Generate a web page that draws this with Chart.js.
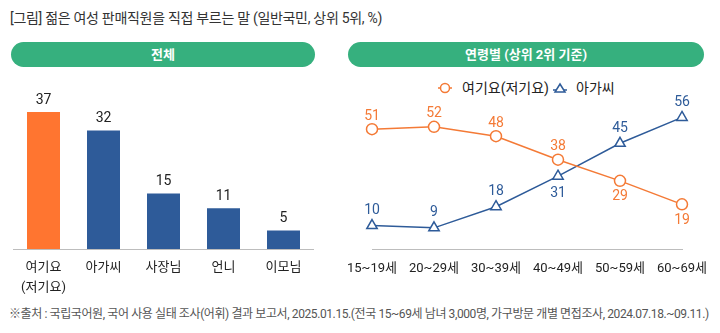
<!DOCTYPE html>
<html><head><meta charset="utf-8">
<script src="https://cdn.jsdelivr.net/npm/chart.js@4"></script>
<style>
html,body{margin:0;padding:0;background:#fff;}
body{width:720px;height:333px;position:relative;overflow:hidden;font-family:Roboto,"Noto Sans CJK KR",sans-serif;}
.title{position:absolute;left:10px;top:7px;font-size:14px;color:#333;letter-spacing:-0.3px;white-space:nowrap;}
.pill{position:absolute;height:25px;border-radius:13px;background:#36B07E;color:#fff;font-weight:bold;font-size:13px;line-height:25px;text-align:center;}
.foot{position:absolute;left:9px;top:304px;font-size:12px;color:#555;letter-spacing:-0.4px;white-space:nowrap;}
.lg{position:absolute;top:80px;height:16px;line-height:16px;font-size:14px;color:#222;white-space:nowrap;}
.lgi{position:absolute;top:82px;}
canvas{position:absolute;}
</style></head>
<body>
<div class="title">[그림] 젊은 여성 판매직원을 직접 부르는 말 (일반국민, 상위 5위, %)</div>
<div class="pill" style="left:11px;top:42px;width:304px;">전체</div>
<div class="pill" style="left:348px;top:42px;width:356px;">연령별 (상위 2위 기준)</div>
<svg class="lgi" style="left:438px" width="14" height="12"><line x1="0" y1="6" x2="14" y2="6" stroke="#F47A36" stroke-width="1.5"/><circle cx="7" cy="6" r="4.5" fill="#fff" stroke="#F47A36" stroke-width="1.5"/></svg>
<div class="lg" id="lg1" style="left:462px;"></div>
<svg class="lgi" style="left:553px" width="14" height="12"><line x1="0" y1="8" x2="14" y2="8" stroke="#2E5B99" stroke-width="1.5"/><polygon points="7,2 12,10 2,10" fill="#fff" stroke="#2E5B99" stroke-width="1.5"/></svg>
<div class="lg" id="lg2" style="left:576px;"></div>
<canvas id="bar" width="310" height="224" style="left:10px;top:75px;"></canvas>
<canvas id="line" width="362" height="224" style="left:348px;top:75px;"></canvas>
<div class="foot">※출처 : 국립국어원, 국어 사용 실태 조사(어휘) 결과 보고서, 2025.01.15.(전국 15~69세 남녀 3,000명, 가구방문 개별 면접조사, 2024.07.18.~09.11.)</div>
<script>
// ---- data ----
const barCategories = [["여기요","(저기요)"], "아가씨", "사장님", "언니", "이모님"];
const barValues = [37, 32, 15, 11, 5];
const ageCategories = ["15~19세", "20~29세", "30~39세", "40~49세", "50~59세", "60~69세"];
const seriesNames = ["여기요(저기요)", "아가씨"];
const yeogiyoValues = [51, 52, 48, 38, 29, 19];
const agassiValues = [10, 9, 18, 31, 45, 56];
// label placement (style)
const yeogiyoLabelPos = ["up","up","up","up","down","down"];
const agassiLabelPos = ["up","up","up","down","up","up"];

document.getElementById("lg1").textContent = seriesNames[0];
document.getElementById("lg2").textContent = seriesNames[1];

const ORANGE = "#FF7530", BLUE = "#2E5B99", LORANGE = "#F47A36";
const FONT = 'Roboto, "Noto Sans CJK KR", sans-serif';

const valueLabels = {
  id: "valueLabels",
  afterDatasetsDraw(chart) {
    const ctx = chart.ctx;
    chart.data.datasets.forEach((ds, di) => {
      const meta = chart.getDatasetMeta(di);
      meta.data.forEach((el, i) => {
        const pos = ds.labelPos ? ds.labelPos[i] : "up";
        const off = pos === "up" ? -(ds.labelOffUp || 13) : (ds.labelOffDown || 16);
        ctx.save();
        ctx.font = "14px " + FONT;
        ctx.fillStyle = ds.labelColor || "#222";
        ctx.textAlign = "center";
        ctx.textBaseline = "middle";
        ctx.fillText(String(ds.data[i]), el.x, el.y + off);
        ctx.restore();
      });
    });
  }
};

new Chart(document.getElementById("bar"), {
  type: "bar",
  data: {
    labels: barCategories,
    datasets: [{
      data: barValues,
      backgroundColor: barValues.map((v, i) => i === 0 ? ORANGE : BLUE),
      barPercentage: 0.55,
      categoryPercentage: 1,
      labelColor: "#222",
      labelOffUp: 12
    }]
  },
  options: {
    responsive: false,
    animation: false,
    layout: { padding: { top: 7.5, left: 3.5, right: 6.5, bottom: 0 } },
    plugins: { legend: { display: false }, tooltip: { enabled: false } },
    scales: {
      x: {
        grid: { display: false, drawTicks: false },
        border: { display: true, color: "#BDBDBD", width: 1 },
        ticks: { color: "#222", font: { size: 13, family: FONT, lineHeight: 1.6 }, padding: 8, maxRotation: 0, autoSkip: false },
        afterFit(s) { s.height = 50; }
      },
      y: { display: false, min: 0, max: 45 }
    }
  },
  plugins: [valueLabels]
});

new Chart(document.getElementById("line"), {
  type: "line",
  data: {
    labels: ageCategories,
    datasets: [{
      label: seriesNames[0],
      data: yeogiyoValues,
      borderColor: LORANGE,
      borderWidth: 1.5,
      pointStyle: "circle",
      pointRadius: 5.5,
      pointBorderWidth: 1.5,
      pointBackgroundColor: "#fff",
      pointBorderColor: LORANGE,
      labelPos: yeogiyoLabelPos,
      labelColor: LORANGE,
      labelOffUp: 13,
      labelOffDown: 16
    }, {
      label: seriesNames[1],
      data: agassiValues,
      borderColor: BLUE,
      borderWidth: 1.5,
      pointStyle: "triangle",
      pointRadius: 6,
      pointBorderWidth: 1.5,
      pointBackgroundColor: "#fff",
      pointBorderColor: BLUE,
      labelPos: agassiLabelPos,
      labelColor: BLUE,
      labelOffUp: 15,
      labelOffDown: 17
    }]
  },
  options: {
    responsive: false,
    animation: false,
    layout: { padding: { top: 33, left: 24, right: 28, bottom: 0 } },
    plugins: { legend: { display: false }, tooltip: { enabled: false } },
    scales: {
      x: {
        offset: false,
        grid: { display: false, drawTicks: false },
        border: { display: true, color: "#BDBDBD", width: 1 },
        ticks: { color: "#222", font: { size: 13, family: FONT }, padding: 12, maxRotation: 0, autoSkip: false },
        afterFit(s) { s.height = 50; s.paddingLeft = 0; s.paddingRight = 0; }
      },
      y: { display: false, min: 0, max: 60 }
    }
  },
  plugins: [valueLabels]
});
</script>
</body></html>
